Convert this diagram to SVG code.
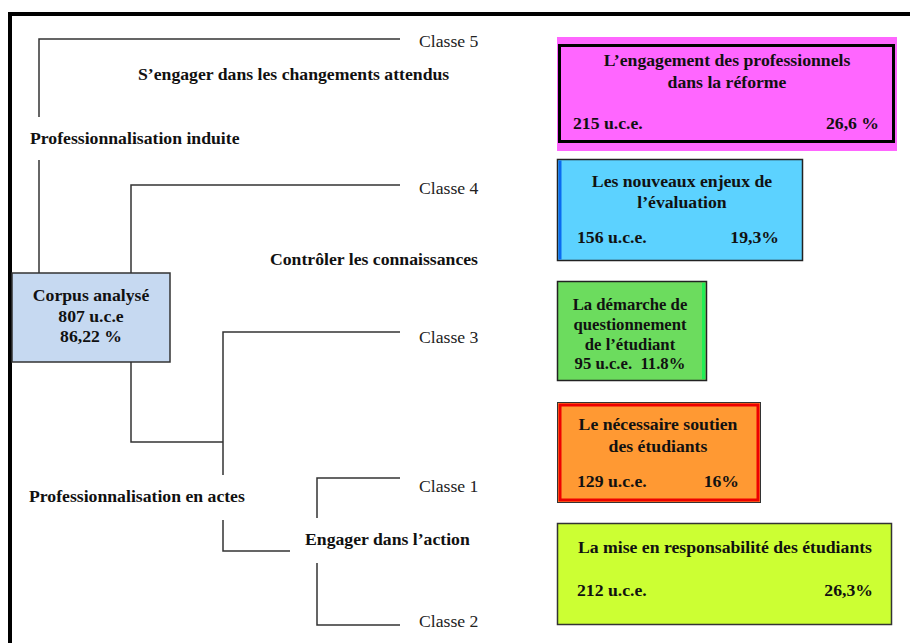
<svg xmlns="http://www.w3.org/2000/svg" width="910" height="643" viewBox="0 0 910 643">
<style>
  .b { font-family: "Liberation Serif", "Times New Roman", serif; font-weight: bold; font-size: 17.7px; fill: #111; }
  .r { font-family: "Liberation Serif", "Times New Roman", serif; font-size: 17.7px; fill: #222; }
  .s { font-size: 16.7px; }
  .m { text-anchor: middle; }
  .e { text-anchor: end; }
  .ln { stroke: #333; stroke-width: 1.5; fill: none; }
</style>
<rect width="910" height="643" fill="#fff"/>
<g id="frame">
  <line x1="8" y1="14" x2="910" y2="14" stroke="#000" stroke-width="4"/>
  <line x1="10" y1="12" x2="10" y2="643" stroke="#000" stroke-width="4"/>
</g>
<g id="connectors">
  <polyline class="ln" points="400,39 39,39 39,117"/>
  <line class="ln" x1="39" y1="160" x2="39" y2="273"/>
  <polyline class="ln" points="400,185 131,185 131,273"/>
  <polyline class="ln" points="131,362 131,442 223,442"/>
  <polyline class="ln" points="400,332 223,332 223,475"/>
  <polyline class="ln" points="223,520 223,551 290,551"/>
  <polyline class="ln" points="400,478 317,478 317,518"/>
  <polyline class="ln" points="317,563 317,625 400,625"/>
</g>
<g id="labels">
  <text class="r" x="419" y="47">Classe 5</text>
  <text class="b" x="138" y="80">S’engager dans les changements attendus</text>
  <text class="b" x="30" y="144">Professionnalisation induite</text>
  <text class="r" x="419" y="194">Classe 4</text>
  <text class="b" x="270" y="265">Contrôler les connaissances</text>
  <text class="r" x="419" y="343">Classe 3</text>
  <text class="b" x="29" y="502">Professionnalisation en actes</text>
  <text class="r" x="419" y="492">Classe 1</text>
  <text class="b" x="305" y="545">Engager dans l’action</text>
  <text class="r" x="419" y="627">Classe 2</text>
</g>
<g id="corpus">
  <rect x="12" y="273" width="158" height="89" fill="#c6d9f1" stroke="#333" stroke-width="1.5"/>
  <text class="b m" x="91" y="301">Corpus analysé</text>
  <text class="b m" x="91" y="322">807 u.c.e</text>
  <text class="b m" x="91" y="342">86,22 %</text>
</g>
<g id="classe5">
  <rect x="557" y="37" width="340" height="114" fill="#ff66ff"/>
  <rect x="559.5" y="45.5" width="334" height="96" fill="none" stroke="#000" stroke-width="3"/>
  <text class="b m" x="727" y="66">L’engagement des professionnels</text>
  <text class="b m" x="727" y="88">dans la réforme</text>
  <text class="b" x="573" y="129">215 u.c.e.</text>
  <text class="b e" x="879" y="129">26,6 %</text>
</g>
<g id="classe4">
  <rect x="557.5" y="159.5" width="245" height="101" fill="#5cd2ff" stroke="#222" stroke-width="1.5"/>
  <rect x="558.5" y="160.5" width="3" height="99" fill="#0a6af0"/>
  <text class="b m" x="682" y="187">Les nouveaux enjeux de</text>
  <text class="b m" x="682" y="208">l’évaluation</text>
  <text class="b" x="577" y="243">156 u.c.e.</text>
  <text class="b e" x="779" y="243">19,3%</text>
</g>
<g id="classe3">
  <rect x="557.5" y="281.5" width="149" height="99" fill="#6cdc5e" stroke="#222" stroke-width="1.5"/>
  <rect x="702" y="283" width="3" height="96" fill="#22ee55"/>
  <text class="b s m" x="630" y="310">La démarche de</text>
  <text class="b s m" x="630" y="330">questionnement</text>
  <text class="b s m" x="630" y="350">de l’étudiant</text>
  <text class="b s m" x="630" y="369" xml:space="preserve">95 u.c.e.  11.8%</text>
</g>
<g id="classe1">
  <rect x="557.5" y="402.5" width="203" height="100" fill="#ff9933" stroke="#333" stroke-width="1"/>
  <rect x="560" y="405" width="198" height="95" fill="none" stroke="#ee0000" stroke-width="3"/>
  <text class="b m" x="658" y="430">Le nécessaire soutien</text>
  <text class="b m" x="658" y="452">des étudiants</text>
  <text class="b" x="577" y="487">129 u.c.e.</text>
  <text class="b e" x="739" y="487">16%</text>
</g>
<g id="classe2">
  <rect x="557.5" y="523.5" width="334" height="101" fill="#ccff33" stroke="#333" stroke-width="1.5"/>
  <text class="b m" x="725" y="553">La mise en responsabilité des étudiants</text>
  <text class="b" x="577" y="596">212 u.c.e.</text>
  <text class="b e" x="873" y="596">26,3%</text>
</g>
</svg>
